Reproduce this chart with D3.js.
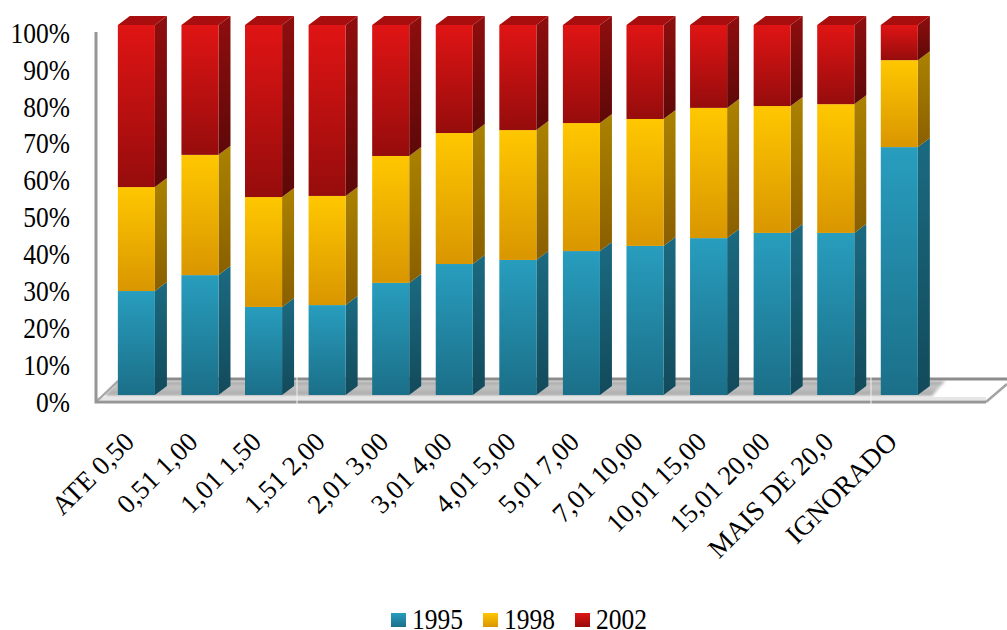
<!DOCTYPE html>
<html>
<head>
<meta charset="utf-8">
<script src="https://cdn.jsdelivr.net/npm/d3@7"></script>
<style>
html, body { margin: 0; padding: 0; background: #fff; }
svg { display: block; }
text { font-family: "Liberation Serif", serif; fill: #000; }
</style>
</head>
<body>
<svg id="chart" width="1007" height="630"></svg>
<script>
const categories = ['ATE 0,50', '0,51 1,00', '1,01 1,50', '1,51 2,00', '2,01 3,00', '3,01 4,00', '4,01 5,00',
    '5,01 7,00', '7,01 10,00', '10,01 15,00', '15,01 20,00', 'MAIS DE 20,0', 'IGNORADO'];
const seriesNames = ['1995', '1998', '2002'];
const values1995 = [28.1, 32.4, 23.8, 24.3, 30.3, 35.4, 36.5, 38.9, 40.3, 42.4, 43.8, 43.8, 67.0];
const values1998 = [28.1, 32.5, 29.7, 29.5, 34.3, 35.4, 35.1, 34.6, 34.3, 35.2, 34.3, 34.8, 23.5];
const values2002 = [43.8, 35.1, 46.5, 46.2, 35.4, 29.2, 28.4, 26.5, 25.4, 22.4, 21.9, 21.4, 9.5];
const yTicks = [0, 0.1, 0.2, 0.3, 0.4, 0.5, 0.6, 0.7, 0.8, 0.9, 1];

// front face colours top/bottom, side face colours top/bottom, cap colour
const palette = {
    '1995': { front: ['#289dbe', '#1b6f88'], side: ['#1b6a81', '#124a5b'], cap: '#1b6a81' },
    '1998': { front: ['#ffc700', '#d99600'], side: ['#ab8200', '#8a5f00'], cap: '#ab8200' },
    '2002': { front: ['#e01414', '#960c0c'], side: ['#8f0e0e', '#5e0808'], cap: '#a80e0e' }
};

const svg = d3.select('#chart');
const defs = svg.append('defs');

// 3d offset of the bar depth
const depthX = 12;
const depthY = -9;
// text in this chart is drawn slightly taller than wide
const textStretch = 1.13;

const x = d3.scaleBand().domain(categories).range([104.6, 931.1]).paddingInner(0.417).paddingOuter(0.2085);
const y = d3.scaleLinear().domain([0, 1]).range([395, 25]);
// the axis sits on the front edge of the floor, lower than the bars
const yAxisScale = d3.scaleLinear().domain([0, 1]).range([402, 33]);

const rows = categories.map((c, i) => ({
    category: c,
    '1995': values1995[i],
    '1998': values1998[i],
    '2002': values2002[i]
}));
const stacked = d3.stack().keys(seriesNames).offset(d3.stackOffsetExpand)(rows);

function addGradient(id, colors) {
    const g = defs.append('linearGradient').attr('id', id).attr('x1', 0).attr('y1', 0).attr('x2', 0).attr('y2', 1);
    g.append('stop').attr('offset', '0%').attr('stop-color', colors[0]);
    g.append('stop').attr('offset', '100%').attr('stop-color', colors[1]);
}
seriesNames.forEach(s => {
    addGradient('front' + s, palette[s].front);
    addGradient('side' + s, palette[s].side);
});

const shade = defs.append('linearGradient').attr('id', 'floorShade').attr('x1', 0).attr('y1', 0).attr('x2', 0).attr('y2', 1);
shade.append('stop').attr('offset', '0%').attr('stop-color', '#9a9a9a');
shade.append('stop').attr('offset', '35%').attr('stop-color', '#c6c6c6');
shade.append('stop').attr('offset', '100%').attr('stop-color', '#a6a6a6');
defs.append('filter').attr('id', 'soft').attr('x', '-5%').attr('y', '-30%').attr('width', '110%').attr('height', '160%')
    .append('feGaussianBlur').attr('stdDeviation', 1.6);

// Floor and wall edge
const floorG = svg.append('g');
const floorLeft = 96, floorRight = 986, floorFront = 402, floorBack = 379;
floorG.append('path')
    .attr('d', `M118,${floorBack + 2}L945,${floorBack + 2}L932,396L104,396Z`)
    .attr('fill', 'url(#floorShade)').attr('filter', 'url(#soft)');
floorG.append('rect')
    .attr('x', floorLeft).attr('y', 397).attr('width', floorRight - floorLeft).attr('height', 3)
    .attr('fill', '#e6e6e6');
floorG.append('path')
    .attr('d', `M${floorLeft},${floorFront}L${floorLeft + 22},${floorBack + 2}`)
    .attr('fill', 'none').attr('stroke', '#a4a4a4').attr('stroke-width', 2);
floorG.append('path')
    .attr('d', `M${floorRight},${floorFront}L${floorRight + 21},${floorBack + 5}`)
    .attr('fill', 'none').attr('stroke', '#a4a4a4').attr('stroke-width', 2.5);
floorG.append('path')
    .attr('d', `M${floorLeft + 24},${floorBack}H1007`)
    .attr('fill', 'none').attr('stroke', '#8c8c8c').attr('stroke-width', 3);
floorG.append('path')
    .attr('d', `M${floorLeft},32V${floorFront}H${floorRight}`)
    .attr('fill', 'none').attr('stroke', '#969696').attr('stroke-width', 3);
// thin pale seams crossing the floor
floorG.selectAll('line.seam')
    .data([297, 871])
    .enter().append('line')
    .attr('class', 'seam')
    .attr('x1', d => d).attr('x2', d => d)
    .attr('y1', 377).attr('y2', 404)
    .attr('stroke', '#f2f2f2').attr('stroke-width', 1);

// Bars, bottom series first; every segment gets front and side, the top one also a cap
stacked.forEach(layer => {
    const s = layer.key;
    const g = svg.append('g').attr('class', 'series-' + s);
    g.selectAll('path.side')
        .data(layer)
        .enter().append('path')
        .attr('class', 'side')
        .attr('fill', `url(#side${s})`)
        .attr('d', d => {
            const x1 = x(d.data.category) + x.bandwidth();
            return `M${x1},${y(d[0])}L${x1 + depthX},${y(d[0]) + depthY}V${y(d[1]) + depthY}L${x1},${y(d[1])}Z`;
        });
    g.selectAll('rect.front')
        .data(layer)
        .enter().append('rect')
        .attr('class', 'front')
        .attr('fill', `url(#front${s})`)
        .attr('x', d => x(d.data.category))
        .attr('width', x.bandwidth())
        .attr('y', d => y(d[1]))
        .attr('height', d => y(d[0]) - y(d[1]));
    if (s === '2002') {
        g.selectAll('path.cap')
            .data(layer)
            .enter().append('path')
            .attr('class', 'cap')
            .attr('fill', palette[s].cap)
            .attr('d', d => {
                const x0 = x(d.data.category), x1 = x0 + x.bandwidth(), top = y(d[1]);
                return `M${x0},${top}L${x0 + depthX},${top + depthY}H${x1 + depthX}L${x1},${top}Z`;
            });
    }
});

// Value axis
const yAxis = svg.append('g')
    .attr('transform', 'translate(70,0)')
    .call(d3.axisLeft(yAxisScale).tickValues(yTicks).tickSize(0).tickPadding(0).tickFormat(d3.format('.0%')));
yAxis.select('.domain').remove();
yAxis.selectAll('text')
    .style('font-family', '"Liberation Serif", serif')
    .style('font-size', '25.5px')
    .attr('fill', '#000')
    .attr('transform', `scale(1,${textStretch})`);

// Category labels
svg.append('g').selectAll('text')
    .data(categories)
    .enter().append('text')
    .attr('text-anchor', 'end')
    .attr('font-size', 27)
    .attr('transform', d => `translate(${x(d) + x.bandwidth() / 2 - 14},${430}) rotate(-45)`)
    .attr('dy', '0.7em')
    .text(d => d);

// Legend
const legendX = d3.scaleOrdinal().domain(seriesNames).range([391, 483, 575]);
const legend = svg.append('g').selectAll('g')
    .data(seriesNames)
    .enter().append('g')
    .attr('transform', d => `translate(${legendX(d)},613)`);
legend.append('rect')
    .attr('width', 15).attr('height', 14)
    .attr('fill', d => `url(#front${d})`);
legend.append('text')
    .attr('transform', `translate(21,16) scale(1,${textStretch})`)
    .attr('font-size', 25.5)
    .text(d => d);
</script>
</body>
</html>
